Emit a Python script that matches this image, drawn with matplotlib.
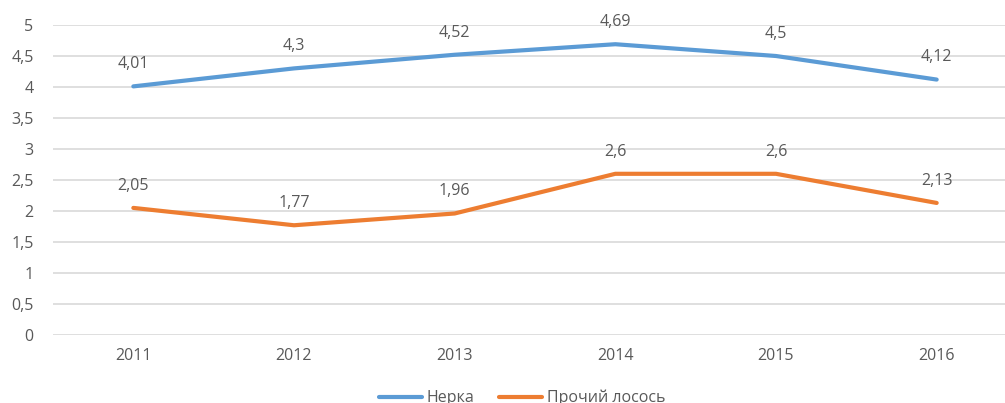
import matplotlib.pyplot as plt
from matplotlib.ticker import FuncFormatter

years = ["2011", "2012", "2013", "2014", "2015", "2016"]
nerka = [4.01, 4.3, 4.52, 4.69, 4.5, 4.12]
other_salmon = [2.05, 1.77, 1.96, 2.6, 2.6, 2.13]
series_names = ["Нерка", "Прочий лосось"]
yticks = [0, 0.5, 1, 1.5, 2, 2.5, 3, 3.5, 4, 4.5, 5]

BLUE = "#5B9BD5"
ORANGE = "#ED7D31"
TXT = "#595959"
FS = 11.5

plt.rcParams["font.family"] = ["Open Sans", "DejaVu Sans"]

def comma(v):
    s = f"{v:g}"
    return s.replace(".", ",")

fig = plt.figure(figsize=(10.05, 4.03), dpi=100)
ax = fig.add_axes([53/1005, 68/403, 964/1005, 310/403])

x = range(len(years))
lines = []
for vals, col, name in [(nerka, BLUE, series_names[0]), (other_salmon, ORANGE, series_names[1])]:
    ln, = ax.plot(x, vals, color=col, lw=3, solid_capstyle="round", label=name, zorder=3)
    lines.append(ln)
    for xi, v in zip(x, vals):
        ax.annotate(comma(v), (xi, v), xytext=(0, 16), textcoords="offset points",
                    ha="center", va="center", fontsize=FS, color=TXT)

ax.set_xlim(-0.5, 5.5)
ax.set_ylim(0, 5)
ax.set_xticks(list(x))
ax.set_xticklabels(years)
ax.set_yticks(yticks)
ax.yaxis.set_major_formatter(FuncFormatter(lambda v, p: comma(v)))
ax.tick_params(length=0, labelsize=FS, labelcolor=TXT)
ax.tick_params(axis="y", pad=14)
ax.tick_params(axis="x", pad=9)
ax.grid(axis="y", color="#D9D9D9", lw=1.2)
ax.set_axisbelow(True)
for s in ax.spines.values():
    s.set_visible(False)

fig.legend(handles=lines, loc="center", bbox_to_anchor=(522/1005, 1 - 398/403),
           ncol=2, frameon=False, fontsize=FS, handlelength=2.7, handletextpad=0.3,
           columnspacing=1.5, labelcolor=TXT)

fig.savefig("out.png", dpi=100)
